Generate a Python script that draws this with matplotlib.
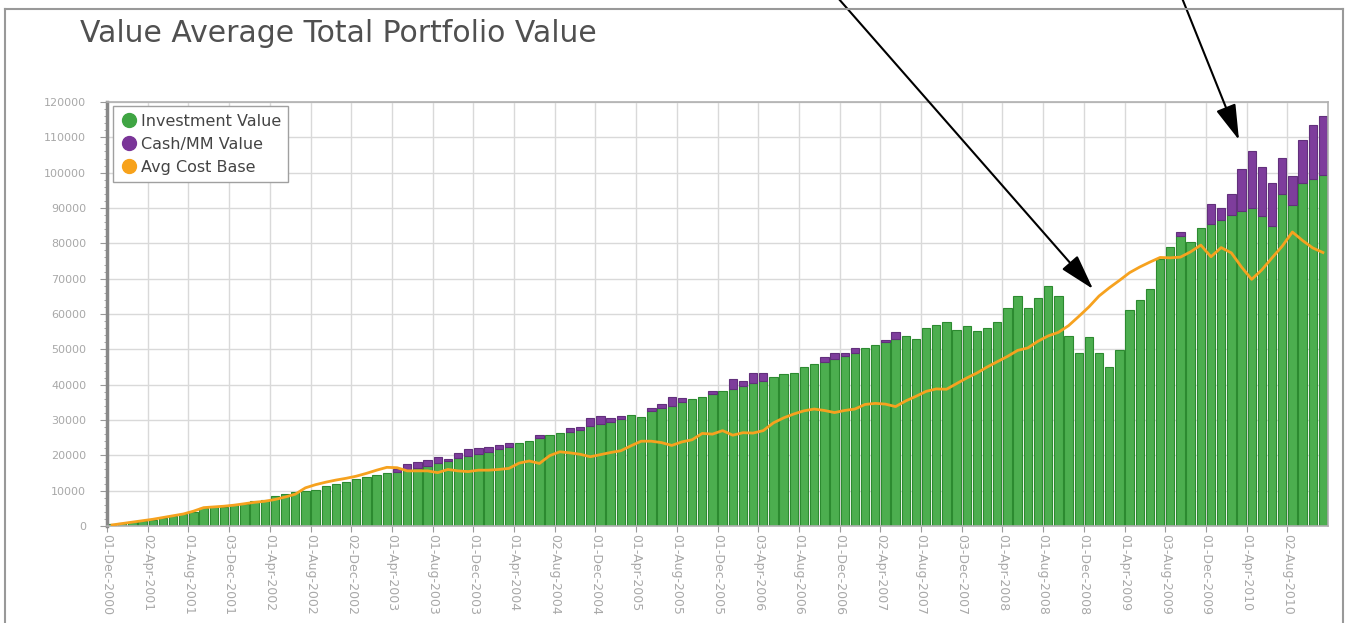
import matplotlib
matplotlib.use('Agg')
import numpy as np
import matplotlib.pyplot as plt
from matplotlib.lines import Line2D
from matplotlib.ticker import MultipleLocator

# monthly values, Dec 2000 .. Nov 2010
invest = [
    500, 900, 1200, 1400, 1600, 2200, 2700, 3300, 4000, 5000,
    5300, 5500, 5900, 6300, 7000, 7400, 8400, 9000, 9700, 10000,
    10300, 11200, 11800, 12500, 13200, 14000, 14400, 15100, 15300, 15800,
    16300, 17000, 17900, 18500, 19200, 19800, 20400, 21000, 21700, 22400,
    23400, 24100, 24800, 25800, 26400, 26700, 27200, 28400, 28900, 29500,
    30300, 31400, 30900, 32600, 33500, 34000, 35000, 35900, 36600, 37300,
    38300, 38800, 39600, 40400, 41100, 42300, 42900, 43400, 45100, 45800,
    46400, 47400, 48200, 48900, 50300, 51200, 52000, 52900, 53800, 52900,
    55900, 56900, 57800, 55500, 56600, 55200, 55900, 57600, 61600, 65100,
    61600, 64600, 67900, 65100, 53800, 49000, 53600, 49000, 45100, 49800,
    61100, 64000, 67000, 75500, 79100, 82200, 80300, 84300, 85400, 86600,
    88000, 89200, 90100, 87700, 85000, 94100, 90800, 97000, 98200, 99300,
]

cash = [
    0, 0, 0, 0, 0, 0, 0, 0, 0, 0,
    0, 0, 0, 0, 0, 0, 0, 0, 0, 0,
    0, 0, 0, 0, 0, 0, 0, 0, 800, 1700,
    1900, 1700, 1700, 500, 1500, 1900, 1600, 1400, 1200, 1200,
    0, 0, 1000, 0, 0, 900, 900, 2100, 2300, 1000,
    800, 0, 0, 700, 900, 2400, 1100, 0, 0, 1000,
    0, 2700, 1400, 2800, 2100, 0, 0, 0, 0, 0,
    1400, 1600, 800, 1400, 0, 0, 600, 2100, 0, 0,
    0, 0, 0, 0, 0, 0, 0, 0, 0, 0,
    0, 0, 0, 0, 0, 0, 0, 0, 0, 0,
    0, 0, 0, 0, 0, 900, 0, 0, 5700, 3500,
    5900, 11700, 16100, 14000, 12000, 10100, 8200, 12200, 15300, 16800,
]

avg_cost = [
    300, 700, 1100, 1500, 1900, 2400, 2900, 3400, 4200, 5200,
    5400, 5600, 5900, 6300, 6700, 7000, 7500, 8200, 9000, 10800,
    11700, 12400, 13000, 13500, 14100, 14900, 15800, 16600, 16500, 15600,
    15600, 15600, 15100, 16000, 15600, 15400, 15800, 15800, 16000, 16300,
    17800, 18400, 17700, 19900, 21000, 20700, 20300, 19600, 20200, 20800,
    21300, 22700, 24000, 24000, 23600, 22800, 23800, 24400, 26200, 26000,
    27000, 25700, 26400, 26300, 27000, 29200, 30600, 31700, 32600, 33100,
    32700, 32100, 32700, 33100, 34400, 34700, 34500, 33800, 35400, 36700,
    38100, 38800, 38700, 40300, 41900, 43300, 45000, 46500, 48000, 49700,
    50400, 52300, 53800, 54800, 56700, 59300, 62000, 65100, 67400, 69500,
    71700, 73300, 74700, 76000, 75900, 76100, 77600, 79500, 76200, 78800,
    77300, 73300, 69800, 72500, 75900, 79200, 83200, 80800, 78700, 77400,
]

tick_labels = [
    "01-Dec-2000", "02-Apr-2001", "01-Aug-2001", "03-Dec-2001", "01-Apr-2002",
    "01-Aug-2002", "02-Dec-2002", "01-Apr-2003", "01-Aug-2003", "01-Dec-2003",
    "01-Apr-2004", "02-Aug-2004", "01-Dec-2004", "01-Apr-2005", "01-Aug-2005",
    "01-Dec-2005", "03-Apr-2006", "01-Aug-2006", "01-Dec-2006", "02-Apr-2007",
    "01-Aug-2007", "03-Dec-2007", "01-Apr-2008", "01-Aug-2008", "01-Dec-2008",
    "01-Apr-2009", "03-Aug-2009", "01-Dec-2009", "01-Apr-2010", "02-Aug-2010",
]

W, H = 1349, 623
fig = plt.figure(figsize=(W / 100, H / 100), dpi=100)
ax = fig.add_axes([107 / W, 97 / H, 1221 / W, 424 / H])

x = np.arange(len(invest)) + 0.5
inv = np.array(invest)
cs = np.array(cash)
has_cash = cs > 0

ax.bar(x, inv, width=0.82, color='#4cae4f', edgecolor='#2c8a30', linewidth=0.8, zorder=2)
ax.bar(x[has_cash], cs[has_cash], bottom=inv[has_cash], width=0.82,
       color='#7e3d9c', edgecolor='#62307c', linewidth=0.8, zorder=2)
ax.plot(x, avg_cost, color='#f6a21f', lw=2, zorder=3)

ax.set_xlim(0, len(invest))
ax.set_ylim(0, 120000)
ax.set_xticks(np.arange(0, len(invest), 4))
ax.set_xticklabels(tick_labels, rotation=270, fontsize=9, color='#a8a8a8')
yt = np.arange(0, 120001, 10000)
ax.set_yticks(yt)
ax.set_yticklabels([str(v) for v in yt], fontsize=8, color='#a8a8a8')
ax.yaxis.set_minor_locator(MultipleLocator(2000))
ax.tick_params(axis='y', which='major', length=5, color='#999999', pad=10)
ax.tick_params(axis='y', which='minor', length=2, color='#999999')
ax.tick_params(axis='x', length=4, color='#999999', pad=2)

ax.grid(True, color='#d9d9d9', lw=1)
ax.set_axisbelow(True)
ax.spines['left'].set_color('#888888')
ax.spines['left'].set_linewidth(2.5)
for s in ('top', 'right', 'bottom'):
    ax.spines[s].set_color('#b0b0b0')
    ax.spines[s].set_linewidth(1.2)

handles = [
    Line2D([], [], marker='o', ls='', markersize=10, markerfacecolor='#3fa543', markeredgecolor='#3fa543'),
    Line2D([], [], marker='o', ls='', markersize=10, markerfacecolor='#7a3598', markeredgecolor='#7a3598'),
    Line2D([], [], marker='o', ls='', markersize=10, markerfacecolor='#f7a21b', markeredgecolor='#f7a21b'),
]
leg = ax.legend(handles, ['Investment Value', 'Cash/MM Value', 'Avg Cost Base'],
                loc='upper left', bbox_to_anchor=(0.002, 0.997), fontsize=11.5,
                frameon=True, fancybox=False, framealpha=1, edgecolor='#a0a0a0',
                handletextpad=0.2, labelspacing=0.5, borderpad=0.45, handlelength=1.1,
                borderaxespad=0.2)
for t in leg.get_texts():
    t.set_color('#444444')

fig.text(80 / W, 1 - 33 / H, 'Value Average Total Portfolio Value', fontsize=21.5,
         color='#505050', ha='left', va='center')

# outer frame of the screenshot
fig.add_artist(Line2D([5 / W, 5 / W], [0, 1 - 9 / H], color='#999999', lw=1.5))
fig.add_artist(Line2D([5 / W, 1343 / W], [1 - 9 / H, 1 - 9 / H], color='#999999', lw=1.5))
fig.add_artist(Line2D([1343 / W, 1343 / W], [0, 1 - 9 / H], color='#999999', lw=1.5))

# the two pointer arrows drawn over the chart
arrow = dict(arrowstyle='-|>,head_length=1.1,head_width=0.32', color='black', lw=1.5,
             mutation_scale=20, shrinkA=0, shrinkB=0)
ax.annotate('', xy=(1093, H - 289), xycoords='figure pixels',
            xytext=(838, H + 2), textcoords='figure pixels', arrowprops=arrow,
            annotation_clip=False)
ax.annotate('', xy=(1239, H - 140), xycoords='figure pixels',
            xytext=(1182, H + 2), textcoords='figure pixels', arrowprops=arrow,
            annotation_clip=False)

fig.savefig('out.png', dpi=100)
